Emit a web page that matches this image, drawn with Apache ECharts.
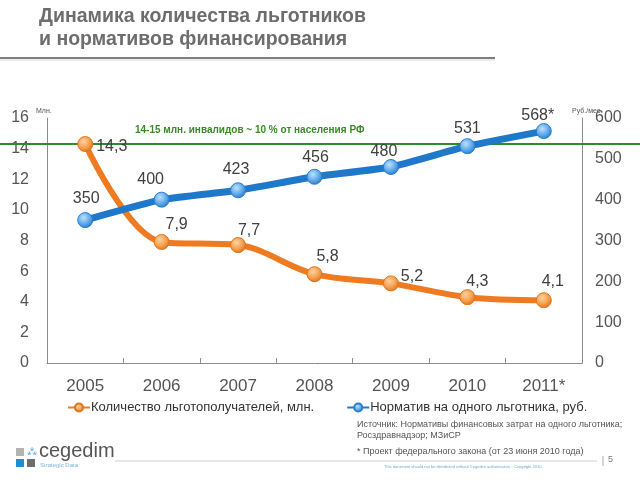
<!DOCTYPE html>
<html>
<head>
<meta charset="utf-8">
<script src="https://cdn.jsdelivr.net/npm/echarts@6/dist/echarts.min.js"></script>
<style>
html,body{margin:0;padding:0;background:#fff;}
#chart{width:640px;height:480px;}
</style>
</head>
<body>
<div id="chart"></div>
<script>
// ---- data ----
const years = ['2005', '2006', '2007', '2008', '2009', '2010', '2011*'];
const beneficiaries = [14.3, 7.9, 7.7, 5.8, 5.2, 4.3, 4.1];      // млн.
const normPerPerson = [350, 400, 423, 456, 480, 531, 568];        // руб./мес.
const leftTicks = { min: 0, max: 16, interval: 2 };
const rightTicks = { min: 0, max: 600, interval: 100 };
const disabledLevel = 14.3;   // 14-15 млн. инвалидов
const seriesNames = ['Количество льготополучателей, млн.', 'Норматив на одного льготника, руб.'];

// ---- label styling (offsets only) ----
const orangeOffsets = [[-2, 3], [15, 3.5], [11, 6.5], [13, 3.5], [21, 14.5], [10, 5.5], [9, 2.5]];
const blueOffsets = [[1, -0.5], [-11, 0.5], [-2, 0.5], [1, 1.5], [-7, 5.5], [0, 3.5], [-6, 5.5]];

const FONT = '"Liberation Sans", Arial, sans-serif';
const chart = echarts.init(document.getElementById('chart'));

function ball(light, mid, dark) {
  return {
    type: 'radial', x: 0.4, y: 0.35, r: 0.65,
    colorStops: [{ offset: 0, color: light }, { offset: 0.6, color: mid }, { offset: 1, color: dark }]
  };
}

const orangeData = beneficiaries.map((v, i) => ({
  value: v,
  label: { position: i === 0 ? 'right' : 'top', offset: orangeOffsets[i] }
}));
const blueData = normPerPerson.map((v, i) => ({
  value: v,
  label: { position: 'top', offset: blueOffsets[i] }
}));

const option = {
  backgroundColor: '#ffffff',
  animation: false,
  textStyle: { fontFamily: FONT },
  grid: { left: 47, right: 58, top: 118, bottom: 117, outerBoundsMode: 'none' },
  legend: {
    left: 62, top: 396,
    itemWidth: 22, itemHeight: 10, itemGap: 32,
    textStyle: { fontFamily: FONT, fontSize: 13, color: '#333', padding: [0, 0, 0, -4] },
    data: seriesNames
  },
  xAxis: {
    type: 'category',
    data: years,
    boundaryGap: true,
    axisLine: { lineStyle: { color: '#8c8c8c', width: 1 } },
    axisTick: { show: true, length: 5, inside: true, lineStyle: { color: '#8c8c8c' } },
    axisLabel: { fontSize: 17, color: '#555', margin: 15, fontFamily: FONT }
  },
  yAxis: [
    {
      type: 'value', min: leftTicks.min, max: leftTicks.max, interval: leftTicks.interval,
      position: 'left',
      splitLine: { show: false },
      axisLine: { show: true, lineStyle: { color: '#8c8c8c' } },
      axisTick: { show: false },
      axisLabel: { fontSize: 16, color: '#555', margin: 18, fontFamily: FONT }
    },
    {
      type: 'value', min: rightTicks.min, max: rightTicks.max, interval: rightTicks.interval,
      position: 'right',
      splitLine: { show: false },
      axisLine: { show: true, lineStyle: { color: '#8c8c8c' } },
      axisTick: { show: false },
      axisLabel: { fontSize: 16, color: '#555', margin: 13, fontFamily: FONT }
    }
  ],
  series: [
    {
      name: seriesNames[0],
      type: 'line',
      yAxisIndex: 0,
      data: orangeData,
      smooth: 0.35,
      symbol: 'circle',
      symbolSize: 15,
      z: 3,
      lineStyle: { color: '#EE7A22', width: 6 },
      itemStyle: { color: ball('#FBD2A4', '#F6A04E', '#E0761C'), borderColor: '#E0761C', borderWidth: 1 },
      label: {
        show: true, fontSize: 16, color: '#404040', fontFamily: FONT,
        formatter: p => String(p.value).replace('.', ',')
      }
    },
    {
      name: seriesNames[1],
      type: 'line',
      yAxisIndex: 1,
      data: blueData,
      smooth: 0.15,
      symbol: 'circle',
      symbolSize: 15,
      z: 4,
      lineStyle: { color: '#1F78C9', width: 7 },
      itemStyle: { color: ball('#BFE0FA', '#5FAAEC', '#2A7FCC'), borderColor: '#2A7FCC', borderWidth: 1 },
      label: {
        show: true, fontSize: 16, color: '#404040', fontFamily: FONT,
        formatter: p => p.dataIndex === normPerPerson.length - 1 ? p.value + '*' : String(p.value)
      }
    }
  ]
};
chart.setOption(option);

const gy = chart.convertToPixel({ yAxisIndex: 0 }, disabledLevel);

chart.setOption({
  graphic: [
    // title
    { type: 'text', left: 39, top: 7, style: { text: 'Динамика количества льготников', font: 'bold 19.5px ' + FONT, fill: '#6d6d6d' } },
    { type: 'text', left: 39, top: 30, style: { text: 'и нормативов финансирования', font: 'bold 19.5px ' + FONT, fill: '#6d6d6d' } },
    { type: 'line', shape: { x1: 0, y1: 58, x2: 495, y2: 58 }, style: { stroke: '#7f7f7f', lineWidth: 2 } },
    { type: 'line', shape: { x1: 0, y1: 60, x2: 495, y2: 60 }, style: { stroke: '#d9d9d9', lineWidth: 1 } },
    // unit labels
    { type: 'text', left: 36, top: 108, style: { text: 'Млн.', font: '7px ' + FONT, fill: '#555' } },
    { type: 'text', left: 572, top: 108, style: { text: 'Руб./мес.', font: '7px ' + FONT, fill: '#555' } },
    // green reference line and note
    { type: 'line', z: 1, shape: { x1: 0, y1: gy, x2: 640, y2: gy }, style: { stroke: '#2E8B2E', lineWidth: 2 } },
    { type: 'text', left: 135, top: 125, style: { text: '14-15 млн. инвалидов ~ 10 % от населения РФ', font: 'bold 10px ' + FONT, fill: '#3A8A2A' } },
    // source notes
    { type: 'text', left: 357, top: 420, style: { text: 'Источник: Нормативы финансовых затрат на одного льготника;', font: '9px ' + FONT, fill: '#555' } },
    { type: 'text', left: 357, top: 431, style: { text: 'Росздравнадзор; МЗиСР', font: '9px ' + FONT, fill: '#555' } },
    { type: 'text', left: 357, top: 447, style: { text: '* Проект федерального закона (от 23 июня 2010 года)', font: '9px ' + FONT, fill: '#555' } },
    // footer
    { type: 'line', shape: { x1: 115, y1: 461, x2: 597, y2: 461 }, style: { stroke: '#d0d0d0', lineWidth: 1 } },
    { type: 'line', shape: { x1: 603, y1: 456, x2: 603, y2: 466 }, style: { stroke: '#aaaaaa', lineWidth: 1 } },
    { type: 'text', left: 608, top: 455, style: { text: '5', font: '9px ' + FONT, fill: '#777' } },
    { type: 'text', left: 384, top: 465, style: { text: 'This document should not be distributed without Cegedim authorisation – Copyright 2010', font: '4px ' + FONT, fill: '#6AA8D8' } },
    // logo
    { type: 'rect', shape: { x: 16, y: 448, width: 8, height: 8 }, style: { fill: '#B3B3B3' } },
    { type: 'rect', shape: { x: 16, y: 459, width: 8, height: 8 }, style: { fill: '#1F8DD0' } },
    { type: 'rect', shape: { x: 27, y: 459, width: 8, height: 8 }, style: { fill: '#6D6D6D' } },
    { type: 'text', left: 27, top: 447, style: { text: '⁂', font: '9px ' + FONT, fill: '#5AA8D6' } },
    { type: 'text', left: 39, top: 441, style: { text: 'cegedim', font: '20px ' + FONT, fill: '#555' } },
    { type: 'text', left: 40, top: 462, style: { text: 'Strategic Data', font: '6px ' + FONT, fill: '#7AB3D9' } }
  ]
});
</script>
</body>
</html>
